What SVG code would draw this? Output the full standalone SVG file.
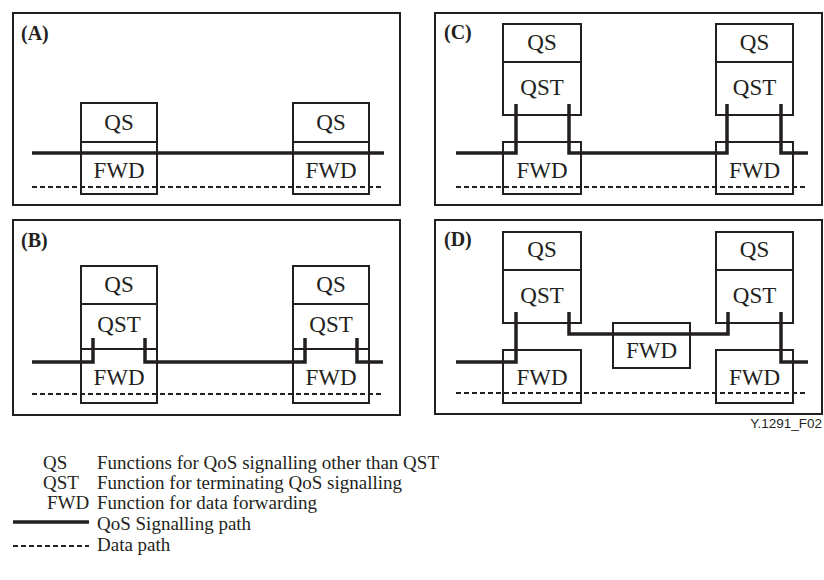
<svg xmlns="http://www.w3.org/2000/svg" width="824" height="580" viewBox="0 0 824 580">
<style>
.panel{fill:none;stroke:#231f20;stroke-width:2}
.box{fill:#fff;stroke:#231f20;stroke-width:2}
.sig{fill:none;stroke:#231f20;stroke-width:3.5;stroke-linejoin:miter;stroke-linecap:butt}
.data{fill:none;stroke:#231f20;stroke-width:1.8;stroke-dasharray:5,3}
.lbl{font-family:"Liberation Serif","Times New Roman",serif;font-size:23px;fill:#231f20;text-anchor:middle}
.plbl{font-family:"Liberation Serif","Times New Roman",serif;font-size:20px;font-weight:bold;fill:#231f20}
.leg{font-family:"Liberation Serif","Times New Roman",serif;font-size:19px;fill:#231f20}
.fig{font-family:"Liberation Sans",Arial,sans-serif;font-size:13.5px;fill:#231f20;text-anchor:end}
</style>
<rect width="824" height="580" fill="#fff"/>

<!-- Panel A -->
<g id="panelA">
<rect class="panel" x="13" y="13" width="387" height="192"/>
<text class="plbl" x="21" y="40">(A)</text>
</g>
<g id="A-node1">
<rect class="box" x="81" y="103" width="76" height="39"/>
<rect class="box" x="81" y="142" width="76" height="52"/>
<text class="lbl" x="119" y="130">QS</text>
<text class="lbl" x="119" y="178">FWD</text>
</g>
<g id="A-node2">
<rect class="box" x="293" y="103" width="76" height="39"/>
<rect class="box" x="293" y="142" width="76" height="52"/>
<text class="lbl" x="331" y="130">QS</text>
<text class="lbl" x="331" y="178">FWD</text>
</g>
<g id="A-connectors">
<path class="sig" d="M32,153 H384"/>
<path class="data" d="M32,187 H382"/>
</g>

<!-- Panel B -->
<g id="panelB">
<rect class="panel" x="13" y="220" width="387" height="195"/>
<text class="plbl" x="21" y="247">(B)</text>
</g>
<g id="B-node1">
<rect class="box" x="81" y="266" width="76" height="38"/>
<rect class="box" x="81" y="304" width="76" height="45"/>
<rect class="box" x="81" y="349" width="76" height="54"/>
<text class="lbl" x="119" y="292">QS</text>
<text class="lbl" x="119" y="332">QST</text>
<text class="lbl" x="119" y="385">FWD</text>
</g>
<g id="B-node2">
<rect class="box" x="293" y="266" width="76" height="38"/>
<rect class="box" x="293" y="304" width="76" height="45"/>
<rect class="box" x="293" y="349" width="76" height="54"/>
<text class="lbl" x="331" y="292">QS</text>
<text class="lbl" x="331" y="332">QST</text>
<text class="lbl" x="331" y="385">FWD</text>
</g>
<g id="B-connectors">
<path class="sig" d="M32,362 H93 V338"/>
<path class="sig" d="M145,338 V362 H305 V338"/>
<path class="sig" d="M357,338 V362 H383"/>
<path class="data" d="M32,394 H382"/>
</g>

<!-- Panel C -->
<g id="panelC">
<rect class="panel" x="435" y="13" width="387" height="192"/>
<text class="plbl" x="444" y="39">(C)</text>
</g>
<g id="C-node1">
<rect class="box" x="503" y="24" width="78" height="38"/>
<rect class="box" x="503" y="62" width="78" height="53"/>
<rect class="box" x="503" y="142" width="78" height="52"/>
<text class="lbl" x="542" y="50">QS</text>
<text class="lbl" x="542" y="95">QST</text>
<text class="lbl" x="542" y="178">FWD</text>
</g>
<g id="C-node2">
<rect class="box" x="716" y="24" width="77" height="38"/>
<rect class="box" x="716" y="62" width="77" height="53"/>
<rect class="box" x="716" y="142" width="77" height="52"/>
<text class="lbl" x="754.5" y="50">QS</text>
<text class="lbl" x="754.5" y="95">QST</text>
<text class="lbl" x="754.5" y="178">FWD</text>
</g>
<g id="C-connectors">
<path class="sig" d="M456,153 H516 V104"/>
<path class="sig" d="M569,104 V153 H727 V104"/>
<path class="sig" d="M781,104 V153 H808"/>
<path class="data" d="M456,187 H808"/>
</g>

<!-- Panel D -->
<g id="panelD">
<rect class="panel" x="435" y="220" width="387" height="194"/>
<text class="plbl" x="444" y="246">(D)</text>
</g>
<g id="D-node1">
<rect class="box" x="503" y="232" width="78" height="38"/>
<rect class="box" x="503" y="270" width="78" height="53"/>
<text class="lbl" x="542" y="257">QS</text>
<text class="lbl" x="542" y="303">QST</text>
</g>
<g id="D-fwd1">
<rect class="box" x="503" y="350" width="78" height="53"/>
<text class="lbl" x="542" y="385">FWD</text>
</g>
<g id="D-fwdmid">
<rect class="box" x="613" y="323" width="77" height="45"/>
<text class="lbl" x="651.5" y="358">FWD</text>
</g>
<g id="D-node2">
<rect class="box" x="716" y="232" width="77" height="38"/>
<rect class="box" x="716" y="270" width="77" height="53"/>
<text class="lbl" x="754.5" y="257">QS</text>
<text class="lbl" x="754.5" y="303">QST</text>
</g>
<g id="D-fwd2">
<rect class="box" x="716" y="350" width="77" height="53"/>
<text class="lbl" x="754.5" y="385">FWD</text>
</g>
<g id="D-connectors">
<path class="sig" d="M456,362 H516 V312"/>
<path class="sig" d="M569,312 V334 H728 V312"/>
<path class="sig" d="M781,312 V362 H808"/>
<path class="data" d="M456,393 H808"/>
</g>

<text class="fig" x="822" y="428">Y.1291_F02</text>

<!-- Legend -->
<g id="legend">
<text class="leg" x="43" y="469">QS</text>
<text class="leg" x="97" y="469">Functions for QoS signalling other than QST</text>
<text class="leg" x="43" y="489">QST</text>
<text class="leg" x="97" y="489">Function for terminating QoS signalling</text>
<text class="leg" x="47" y="509">FWD</text>
<text class="leg" x="97" y="509">Function for data forwarding</text>
<path class="sig" d="M13,522 H89"/>
<text class="leg" x="97" y="530">QoS Signalling path</text>
<path class="data" d="M13,546 H89"/>
<text class="leg" x="97" y="551">Data path</text>
</g>
</svg>
